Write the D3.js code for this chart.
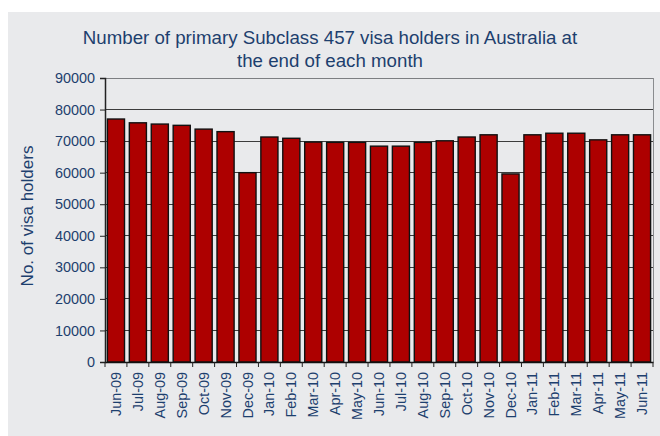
<!DOCTYPE html>
<html><head><meta charset="utf-8">
<script src="https://cdn.jsdelivr.net/npm/d3@7"></script>
<style>body{margin:0;background:#fff}svg{display:block}</style>
</head><body><svg id="c" width="660" height="436"></svg>
<script>
const months = ["Jun-09","Jul-09","Aug-09","Sep-09","Oct-09","Nov-09","Dec-09","Jan-10","Feb-10","Mar-10","Apr-10","May-10","Jun-10","Jul-10","Aug-10","Sep-10","Oct-10","Nov-10","Dec-10","Jan-11","Feb-11","Mar-11","Apr-11","May-11","Jun-11"];
const holders = [77000,75800,75400,75000,73800,73000,60000,71300,70900,69700,69600,69600,68400,68400,69600,70100,71300,72000,59600,72000,72500,72500,70400,72000,72000];
const yTicks = [0,10000,20000,30000,40000,50000,60000,70000,80000,90000];
const titleLines = ["Number of primary Subclass 457 visa holders in Australia at","the end of each month"];
const yLabel = "No. of visa holders";

const navy = "#1d3f6e";
const font = "'Liberation Sans', Arial, sans-serif";
const svg = d3.select("#c");
const L = 105, R = 653, T = 78, B = 362;

svg.append("rect").attr("x",8).attr("y",12).attr("width",652).attr("height",424).attr("fill","#e9eaec");

const y = d3.scaleLinear().domain([0,90000]).range([B,T]);
const x = d3.scaleBand().domain(months).range([L,R]).paddingInner(0.22).paddingOuter(0.11);

// gridlines
svg.append("g").selectAll("line").data(yTicks.filter(d=>d>0)).join("line")
  .attr("x1",L).attr("x2",R).attr("y1",d=>y(d)).attr("y2",d=>y(d))
  .attr("stroke",d=>d===90000?"#7d7f82":"#3c3c3c").attr("stroke-width",1).attr("shape-rendering","crispEdges");
svg.append("line").attr("x1",R).attr("x2",R).attr("y1",T).attr("y2",B)
  .attr("stroke","#8a8c8f").attr("stroke-width",1).attr("shape-rendering","crispEdges");

// bars
svg.append("g").selectAll("rect").data(months).join("rect")
  .attr("x",d=>x(d)).attr("width",x.bandwidth())
  .attr("y",(d,i)=>y(holders[i])).attr("height",(d,i)=>B-y(holders[i]))
  .attr("fill","#ad0000").attr("stroke","#111").attr("stroke-width",1.4);

// y axis
const ya = svg.append("g").attr("transform",`translate(${L},0)`)
  .call(d3.axisLeft(y).tickValues(yTicks).tickSize(5).tickPadding(5).tickFormat(d3.format("d")));
ya.select(".domain").attr("stroke","#222").attr("stroke-width",1.5);
ya.selectAll(".tick line").attr("stroke","#222");
ya.selectAll("text").attr("fill",navy).style("font-family",font).style("font-size","14.4px");

// x axis
const xa = svg.append("g").attr("transform",`translate(0,${B})`)
  .call(d3.axisBottom(x).tickSize(0).tickPadding(0));
xa.select(".domain").attr("stroke","#111").attr("stroke-width",1.5);
xa.selectAll(".tick text").attr("transform","rotate(-90)").attr("x",-10).attr("y",0).attr("dy","0.35em")
  .attr("text-anchor","end").attr("fill",navy).style("font-family",font).style("font-size","14.4px");
// ticks at band boundaries
const bounds = months.map(m=>x(m)-x.step()*x.paddingInner()/2).concat([R]);
xa.append("g").selectAll("line").data(bounds).join("line")
  .attr("x1",d=>d).attr("x2",d=>d).attr("y1",0).attr("y2",5).attr("stroke","#222");

// title
svg.append("g").selectAll("text").data(titleLines).join("text")
  .attr("x",330).attr("y",(d,i)=>44+i*22.5).attr("text-anchor","middle")
  .attr("fill",navy).style("font-family",font).style("font-size","18.7px").text(d=>d);

// y label
svg.append("text").attr("transform","rotate(-90)").attr("x",-216).attr("y",33)
  .attr("text-anchor","middle").attr("fill",navy).style("font-family",font).style("font-size","17px").text(yLabel);
</script></body></html>
